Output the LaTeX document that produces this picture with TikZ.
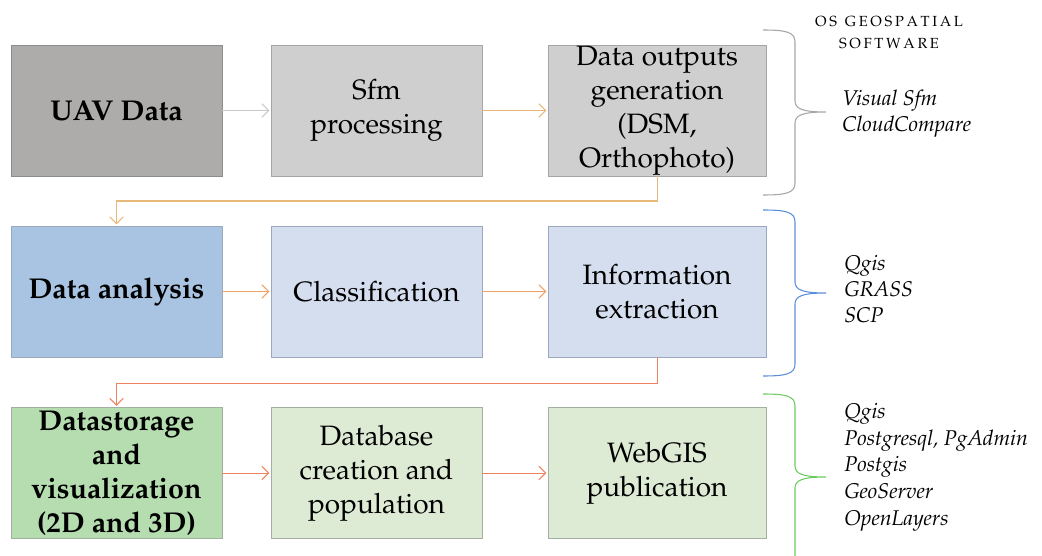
\documentclass[tikz,border=0pt]{standalone}
\usepackage[T1]{fontenc}
\usepackage{mathpazo}
\usetikzlibrary{arrows.meta}
\definecolor{uavfill}{HTML}{AEABAB}
\definecolor{uavline}{HTML}{8C8C8C}
\definecolor{grayfill}{HTML}{D0CFCF}
\definecolor{grayline}{HTML}{A5A5A5}
\definecolor{dafill}{HTML}{A9C4E3}
\definecolor{bluefill}{HTML}{D5DEEF}
\definecolor{blueline}{HTML}{9AA9BE}
\definecolor{dsfill}{HTML}{B5DDB0}
\definecolor{greenfill}{HTML}{DDEBD5}
\definecolor{greenline}{HTML}{A3AFA0}
\definecolor{arrgray}{HTML}{C9C9C9}
\definecolor{arrtan}{HTML}{E8B87A}
\definecolor{arrorange}{HTML}{F0A062}
\definecolor{arrsalmon}{HTML}{EF825E}
\definecolor{bracegray}{HTML}{A6A6A6}
\definecolor{braceblue}{HTML}{5B8FD9}
\definecolor{bracegreen}{HTML}{6CCB5F}
\newcommand\lspc[1]{\ifx#1\relax\else#1\kern2pt\expandafter\lspc\fi}
\begin{document}
\begin{tikzpicture}[x=0.75pt,y=-0.75pt,
  box/.style={draw=grayline, line width=0.6pt, minimum width=158.25pt, minimum height=98.25pt,
    inner sep=0pt, align=center, font=\fontsize{21}{25.5}\selectfont},
  wbox/.style={box, minimum width=163.5pt},
  bbox/.style={box, font=\fontsize{21.5}{25.5}\selectfont\bfseries},
  arr/.style={-{Straight Barb[length=5pt,width=10pt]}, line width=0.75pt, shorten >=1pt},
  brc/.style={line width=0.8pt},
  sw/.style={anchor=west, align=left, inner sep=0pt, font=\fontsize{16}{19.5}\selectfont\itshape},
  hdr/.style={inner sep=0pt, font=\fontsize{11}{12}\selectfont}
]
\useasboundingbox (0,0) rectangle (1042,556);

% row 1
\node[bbox, fill=uavfill, draw=uavline] (uav) at (116.5,110.5) {UAV Data};
\node[box, fill=grayfill] (sfm) at (376.5,110.5) {Sfm\\processing};
\node[wbox, fill=grayfill] (out) at (657,110.5) {\raisebox{-3pt}{\parbox{160pt}{\centering Data outputs\\generation\\(DSM,\\Orthophoto)}}};
% row 2
\node[bbox, fill=dafill, draw=blueline] (da) at (116.5,291.5) {Data analysis};
\node[box, fill=bluefill, draw=blueline] (cls) at (376.5,291.5) {Classification};
\node[wbox, fill=bluefill, draw=blueline] (inf) at (657,291.5) {Information\\extraction};
% row 3
\node[bbox, fill=dsfill, draw=greenline] (ds) at (116.5,473) {Datastorage\\and\\visualization\\(2D and 3D)};
\node[box, fill=greenfill, draw=greenline] (db) at (376.5,473) {Database\\creation and\\population};
\node[wbox, fill=greenfill, draw=greenline] (web) at (657,473) {WebGIS\\publication};

% connectors
\coordinate (k1) at (0,201);
\coordinate (k2) at (0,383);
\draw[arr, arrgray] (uav) -- (sfm);
\draw[arr, arrtan] (sfm) -- (out);
\draw[arr, arrtan] (out.south) -- (out.south |- k1) -| (da.north);
\draw[arr, arrorange] (da) -- (cls);
\draw[arr, arrorange] (cls) -- (inf);
\draw[arr, arrsalmon] (inf.south) -- (inf.south |- k2) -| (ds.north);
\draw[arr, arrsalmon] (ds) -- (db);
\draw[arr, arrsalmon] (db) -- (web);

% braces
\draw[brc, bracegray] (763,30) .. controls (786,30) and (795,32) .. (795,42) -- (795,101)
  .. controls (795,109) and (803,112) .. (826,112)
  .. controls (803,112) and (795,115) .. (795,123) -- (795,183)
  .. controls (795,193) and (786,195) .. (763,195);
\draw[brc, braceblue] (763,210) .. controls (786,210) and (795,212) .. (795,222) -- (795,282)
  .. controls (795,290) and (803,293) .. (826,293)
  .. controls (803,293) and (795,296) .. (795,304) -- (795,364)
  .. controls (795,374) and (786,376) .. (763,376);
\draw[brc, bracegreen] (763,394) .. controls (786,394) and (795,396) .. (795,406) -- (795,466)
  .. controls (795,474) and (803,477) .. (826,477)
  .. controls (803,477) and (795,480) .. (795,488) -- (795,560);

% software text
\node[hdr] (hdr1) at (889,22) {\lspc OS\relax\hspace{4pt}\lspc GEOSPATIAL\relax\kern-2pt};
\node[hdr] (hdr2) at (889,44) {\lspc SOFTWARE\relax\kern-2pt};
\node[sw] (s1) at (842,114) {Visual Sfm\\CloudCompare};
\node[sw] (s2) at (844,289) {Qgis\\GRASS\\SCP};
\node[sw, font=\fontsize{16}{20}\selectfont\itshape] (s3) at (844,467) {Qgis\\Postgresql, PgAdmin\\Postgis\\GeoServer\\OpenLayers};
\end{tikzpicture}
\end{document}
